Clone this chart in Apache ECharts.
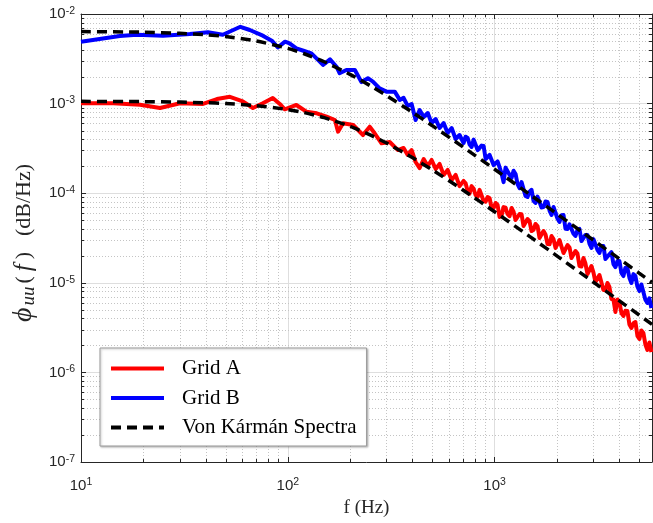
<!DOCTYPE html>
<html>
<head>
<meta charset="utf-8">
<script src="https://cdn.jsdelivr.net/npm/echarts@6/dist/echarts.min.js"></script>
<style>
  html, body { margin: 0; padding: 0; background: #fff; }
  #chart { width: 653px; height: 523px; }
</style>
</head>
<body>
<div id="chart"></div>
<script>
// Grid B (blue) - low frequency part
const gridBFreqLow = [10, 12.3, 15.4, 18.6, 24.9, 33.6, 41.1, 48.5, 59, 65.5, 75.7, 83.7, 89.5, 97, 102, 110, 119, 130, 140, 148, 160, 172, 178, 192, 211, 227, 244, 258, 278, 300, 329];
const gridBValLow = [4.91e-3, 5.26e-3, 5.68e-3, 5.87e-3, 5.73e-3, 5.98e-3, 6.25e-3, 5.87e-3, 7.2e-3, 6.63e-3, 5.73e-3, 5.04e-3, 4.25e-3, 4.91e-3, 4.71e-3, 4.14e-3, 3.89e-3, 3.64e-3, 3.07e-3, 2.70e-3, 3.12e-3, 2.58e-3, 2.18e-3, 2.37e-3, 2.37e-3, 1.74e-3, 1.92e-3, 1.76e-3, 1.48e-3, 1.36e-3, 1.36e-3];

// Grid A (red) - low frequency part
const gridAFreqLow = [10, 14.3, 19.3, 24.1, 30.1, 38.9, 45.4, 52.5, 60.6, 67.8, 75.7, 84.6, 91.5, 96.7, 110, 123, 138, 154, 169, 175, 185, 207, 231, 249, 263, 284, 311, 341];
const gridAValLow = [1.01e-3, 1.01e-3, 9.72e-4, 8.93e-4, 1.01e-3, 9.9e-4, 1.125e-3, 1.19e-3, 1.061e-3, 8.93e-4, 1.01e-3, 1.155e-3, 9.9e-4, 8.64e-4, 9.65e-4, 8.12e-4, 7.80e-4, 7.14e-4, 6.56e-4, 4.86e-4, 6.03e-4, 5.77e-4, 4.46e-4, 5.52e-4, 4.66e-4, 3.60e-4, 3.73e-4, 3.03e-4];

// high frequency part (noisy), shared frequencies
const freqHigh = [348, 363, 380, 397, 415, 434, 454, 475, 496, 519, 542, 567, 593, 620, 648, 677, 708, 741, 774, 809, 846, 885, 925, 967, 1011, 1057, 1105, 1155, 1208, 1263, 1320, 1380, 1443, 1509, 1577, 1649, 1724, 1803, 1885, 1970, 2060, 2154, 2252, 2354, 2461, 2573, 2690, 2813, 2941, 3074, 3214, 3360, 3513, 3673, 3840, 4015, 4197, 4388, 4588, 4797, 5015, 5243, 5481, 5731];
const gridBValHigh = [
  1.10e-3, 1.16e-3, 9.40e-4, 9.90e-4, 6.56e-4, 8.48e-4, 7.08e-4, 7.85e-4, 6.07e-4, 6.73e-4,
  5.34e-4, 6.07e-4, 4.70e-4, 5.34e-4, 4.03e-4, 4.46e-4, 3.63e-4, 4.13e-4, 3.28e-4, 3.82e-4,
  2.88e-4, 3.36e-4, 2.47e-4, 2.67e-4, 1.96e-4, 2.23e-4, 1.33e-4, 1.91e-4, 1.48e-4, 1.64e-4,
  1.14e-4, 1.30e-4, 9.07e-5, 1.09e-4, 7.78e-5, 9.31e-5, 7.0e-5, 7.98e-5, 5.71e-5, 6.84e-5,
  4.77e-5, 5.71e-5, 3.99e-5, 4.65e-5, 3.33e-5, 3.99e-5, 2.85e-5, 3.42e-5, 2.45e-5, 3.0e-5,
  2.15e-5, 2.57e-5, 1.80e-5, 2.2e-5, 1.50e-5, 1.75e-5, 1.19e-5, 1.46e-5, 9.95e-6, 1.19e-5,
  8.1e-6, 9.45e-6, 5.95e-6, 5.23e-6
];
const gridAValHigh = [
  2.88e-4, 3.20e-4, 2.67e-4, 3.03e-4, 2.23e-4, 1.91e-4, 2.41e-4, 2.01e-4, 2.35e-4, 1.86e-4,
  2.12e-4, 1.60e-4, 1.82e-4, 1.40e-4, 1.60e-4, 1.20e-4, 1.37e-4, 1.06e-4, 1.20e-4, 9.55e-5,
  1.09e-4, 8.18e-5, 9.07e-5, 6.84e-5, 7.78e-5, 5.42e-5, 7.0e-5, 5.86e-5, 6.84e-5, 5.02e-5,
  5.86e-5, 4.30e-5, 5.15e-5, 3.78e-5, 4.53e-5, 3.16e-5, 3.78e-5, 2.71e-5, 3.33e-5, 2.45e-5,
  3.0e-5, 2.15e-5, 2.64e-5, 1.89e-5, 2.26e-5, 1.54e-5, 1.89e-5, 1.25e-5, 1.54e-5, 1.02e-5,
  1.22e-5, 8.31e-6, 9.95e-6, 6.59e-6, 4.72e-6, 6.10e-6, 4.26e-6, 4.84e-6, 3.13e-6, 3.65e-6,
  2.36e-6, 2.75e-6, 1.78e-6, 1.69e-6
];

// extra noisy samples in between (the band gets thicker towards high f)
const freqMid = [724, 757, 792, 828, 865, 905, 946, 989, 1034, 1081, 1130, 1181, 1235, 1291, 1350, 1411, 1475, 1543, 1613, 1686, 1763, 1844, 1927, 2014, 2106, 2202, 2303, 2407, 2516, 2631, 2750, 2876, 3007, 3143, 3286, 3436, 3592, 3756, 3926, 4105, 4291, 4487, 4691, 4905, 5128, 5361, 5604];
const gridBValMid = [
  4.27e-4, 3.49e-4, 3.96e-4, 3.03e-4, 3.40e-4, 2.41e-4, 2.67e-4, 2.06e-4, 2.26e-4, 1.66e-4,
  1.93e-4, 1.61e-4, 1.78e-4, 1.26e-4, 1.33e-4, 9.31e-5, 1.04e-4, 8.22e-5, 9.16e-5, 6.92e-5,
  8.08e-5, 6.39e-5, 7.01e-5, 5.22e-5, 5.68e-5, 4.01e-5, 4.5e-5, 3.53e-5, 3.88e-5, 2.92e-5,
  3.42e-5, 2.74e-5, 3.07e-5, 2.33e-5, 2.58e-5, 1.84e-5, 2.08e-5, 1.62e-5, 1.75e-5, 1.29e-5,
  1.47e-5, 1.14e-5, 1.25e-5, 9.09e-6, 9.57e-6, 6.46e-6, 6.71e-6
];
const gridAValMid = [
  1.29e-4, 9.91e-5, 1.12e-4, 9.09e-5, 1.10e-4, 8.03e-5, 8.78e-5, 6.84e-5, 7.38e-5, 5.64e-5,
  6.88e-5, 5.53e-5, 6.21e-5, 4.86e-5, 5.82e-5, 4.33e-5, 4.87e-5, 3.91e-5, 4.30e-5, 3.10e-5,
  3.46e-5, 2.69e-5, 3.07e-5, 2.46e-5, 2.98e-5, 2.22e-5, 2.48e-5, 1.95e-5, 2.12e-5, 1.52e-5,
  1.64e-5, 1.21e-5, 1.30e-5, 1.01e-5, 1.17e-5, 8.31e-6, 8.98e-6, 6.51e-6, 6.51e-6, 4.60e-6,
  4.87e-6, 3.42e-6, 3.54e-6, 2.56e-6, 2.93e-6, 2.05e-6, 2.16e-6
];

// Von Karman spectra (dashed)
const vkFreq = [10, 20, 30, 40, 50, 70, 100, 120, 150, 200, 250, 300, 400, 500, 700, 1000, 1500, 2000, 3000, 4000, 5000, 5770];
const vkB = [6.37e-3, 6.27e-3, 6.09e-3, 5.87e-3, 5.61e-3, 5.02e-3, 4.13e-3, 3.60e-3, 2.93e-3, 2.12e-3, 1.587e-3, 1.23e-3, 8.02e-4, 5.67e-4, 3.31e-4, 1.85e-4, 9.48e-5, 5.89e-5, 3.00e-5, 1.86e-5, 1.28e-5, 1.01e-5];
const vkA = [1.059e-3, 1.052e-3, 1.039e-3, 1.022e-3, 1.001e-3, 9.50e-4, 8.58e-4, 7.93e-4, 6.97e-4, 5.57e-4, 4.47e-4, 3.63e-4, 2.50e-4, 1.82e-4, 1.094e-4, 6.21e-5, 3.21e-5, 2.00e-5, 1.02e-5, 6.33e-6, 4.37e-6, 3.44e-6];

const xMin = 10, xMax = 5770, yMin = 1e-7, yMax = 1e-2;

// minor grid positions (2..9 x 10^n)
const minorX = [];
for (let p = 10; p < xMax; p *= 10) for (let m = 2; m <= 9; m++) if (m * p < xMax) minorX.push(m * p);
const minorY = [];
for (let p = 1e-7; p < yMax * 0.99; p *= 10) for (let m = 2; m <= 9; m++) minorY.push(m * p);

const zip = (f, v) => f.map((x, i) => [x, v[i]]);
const bySorted = (pts) => pts.sort((a, b) => a[0] - b[0]);

const gridAData = bySorted(zip(gridAFreqLow, gridAValLow).concat(zip(freqHigh, gridAValHigh), zip(freqMid, gridAValMid)));
const gridBData = bySorted(zip(gridBFreqLow, gridBValLow).concat(zip(freqHigh, gridBValHigh), zip(freqMid, gridBValMid)));

const axisColor = '#262626';
const sansFont = 'Liberation Sans';
const serifFont = 'Liberation Serif';

const powLabel = (v) => {
  const lg = Math.log10(v);
  const e = Math.round(lg);
  if (Math.abs(lg - e) > 1e-6) return '';
  return '{a|10}{b|' + e + '}';
};
const labelRich = {
  a: { fontSize: 15, fontFamily: sansFont, color: axisColor },
  b: { fontSize: 10.5, fontFamily: sansFont, color: axisColor, verticalAlign: 'top', padding: [0, 0, 6, 0] },
};

const minorXItem = (params, api) => {
  const cs = params.coordSys;
  const x = Math.round(api.coord([api.value(0), 1e-4])[0]) + 0.5;
  return {
    type: 'group',
    children: [
      { type: 'line', shape: { x1: x, y1: cs.y, x2: x, y2: cs.y + cs.height }, style: { stroke: '#c4c4c4', lineWidth: 1, lineDash: [1, 2] } },
      { type: 'line', shape: { x1: x, y1: cs.y + cs.height, x2: x, y2: cs.y + cs.height - 3 }, style: { stroke: axisColor, lineWidth: 1 } },
      { type: 'line', shape: { x1: x, y1: cs.y, x2: x, y2: cs.y + 3 }, style: { stroke: axisColor, lineWidth: 1 } },
    ],
  };
};
const minorYItem = (params, api) => {
  const cs = params.coordSys;
  const y = Math.round(api.coord([100, api.value(1)])[1]) + 0.5;
  return {
    type: 'group',
    children: [
      { type: 'line', shape: { x1: cs.x, y1: y, x2: cs.x + cs.width, y2: y }, style: { stroke: '#c4c4c4', lineWidth: 1, lineDash: [1, 2] } },
      { type: 'line', shape: { x1: cs.x, y1: y, x2: cs.x + 3, y2: y }, style: { stroke: axisColor, lineWidth: 1 } },
      { type: 'line', shape: { x1: cs.x + cs.width, y1: y, x2: cs.x + cs.width - 3, y2: y }, style: { stroke: axisColor, lineWidth: 1 } },
    ],
  };
};

const baseX = {
  type: 'log', logBase: 10, min: xMin, max: xMax, splitNumber: 3,
  axisLine: { lineStyle: { color: axisColor, width: 1 } },
  axisTick: { inside: true, length: 5, lineStyle: { color: axisColor } },
};
const baseY = {
  type: 'log', logBase: 10, min: yMin, max: yMax, splitNumber: 5,
  axisLine: { lineStyle: { color: axisColor, width: 1 } },
  axisTick: { inside: true, length: 5, lineStyle: { color: axisColor } },
};

const chart = echarts.init(document.getElementById('chart'), null, { renderer: 'canvas' });
chart.setOption({
  animation: false,
  backgroundColor: '#fff',
  grid: { left: 81, right: 1, top: 14, bottom: 61, containLabel: false },
  xAxis: [
    {
      ...baseX,
      position: 'bottom',
      name: 'f (Hz)', nameLocation: 'middle', nameGap: 37,
      nameTextStyle: { fontFamily: serifFont, fontSize: 19, color: axisColor },
      axisLabel: { margin: 15, formatter: powLabel, rich: labelRich, showMaxLabel: false },
      splitLine: { show: true, lineStyle: { color: '#dedede', width: 1 } },
    },
    { ...baseX, position: 'top', axisLabel: { show: false }, splitLine: { show: false } },
  ],
  yAxis: [
    {
      ...baseY,
      position: 'left',
      name: '{p|ϕ}{s|uu}{r|(}{i|f}{r|)}{g| }{r|(dB/Hz)}', nameLocation: 'middle', nameGap: 43,
      nameTextStyle: {
        color: axisColor,
        padding: [0, 10, 0, 0],
        rich: {
          p: { fontFamily: serifFont, fontStyle: 'italic', fontSize: 28, color: axisColor, padding: [0, 2, 0, 0] },
          s: { fontFamily: serifFont, fontStyle: 'italic', fontSize: 19, color: axisColor, verticalAlign: 'bottom', padding: [0, 3, 0, 0] },
          i: { fontFamily: serifFont, fontStyle: 'italic', fontSize: 25, color: axisColor, padding: [0, 5, 0, 5] },
          r: { fontFamily: serifFont, fontSize: 22, color: axisColor },
          g: { fontFamily: serifFont, fontSize: 22, width: 16 },
        },
      },
      axisLabel: { margin: 6, formatter: powLabel, rich: labelRich },
      splitLine: { show: true, lineStyle: { color: '#dedede', width: 1 } },
    },
    { ...baseY, position: 'right', axisLabel: { show: false }, splitLine: { show: false } },
  ],
  legend: {
    data: ['Grid A', 'Grid B', 'Von Kármán Spectra'],
    orient: 'vertical',
    left: 100, top: 348,
    itemWidth: 53, itemHeight: 16, itemGap: 8.5,
    padding: [10, 10, 8, 9],
    backgroundColor: '#fff',
    borderColor: '#9a9a9a', borderWidth: 1, borderRadius: 0,
    shadowColor: 'rgba(0,0,0,0.25)', shadowBlur: 2, shadowOffsetX: 1, shadowOffsetY: 1,
    itemStyle: { opacity: 0 },
    lineStyle: { width: 4 },
    textStyle: { fontFamily: serifFont, fontSize: 21, lineHeight: 16, color: '#000', padding: [0, 0, 0, 13] },
  },
  series: [
    {
      type: 'custom', name: 'minorX', silent: true, z: 1, clip: false,
      renderItem: minorXItem, encode: { x: 0, y: 1 },
      data: minorX.map((v) => [v, 1e-4]),
    },
    {
      type: 'custom', name: 'minorY', silent: true, z: 1, clip: false,
      renderItem: minorYItem, encode: { x: 0, y: 1 },
      data: minorY.map((v) => [100, v]),
    },
    {
      name: 'Grid A', type: 'line', showSymbol: false, symbol: 'none', z: 3,
      lineStyle: { color: '#ff0000', width: 4, join: 'round' }, itemStyle: { color: '#ff0000' },
      data: gridAData,
    },
    {
      name: 'Grid B', type: 'line', showSymbol: false, symbol: 'none', z: 3,
      lineStyle: { color: '#0000ff', width: 4, join: 'round' }, itemStyle: { color: '#0000ff' },
      data: gridBData,
    },
    {
      name: 'Von Kármán Spectra', type: 'line', showSymbol: false, symbol: 'none', z: 4, smooth: 0.2,
      lineStyle: { color: '#000', width: 3.5, type: [10, 6] }, itemStyle: { color: '#000' },
      data: zip(vkFreq, vkA),
    },
    {
      name: 'Von Kármán Spectra', type: 'line', showSymbol: false, symbol: 'none', z: 4, smooth: 0.2,
      lineStyle: { color: '#000', width: 3.5, type: [10, 6] }, itemStyle: { color: '#000' },
      data: zip(vkFreq, vkB),
    },
  ],
});
</script>
</body>
</html>
